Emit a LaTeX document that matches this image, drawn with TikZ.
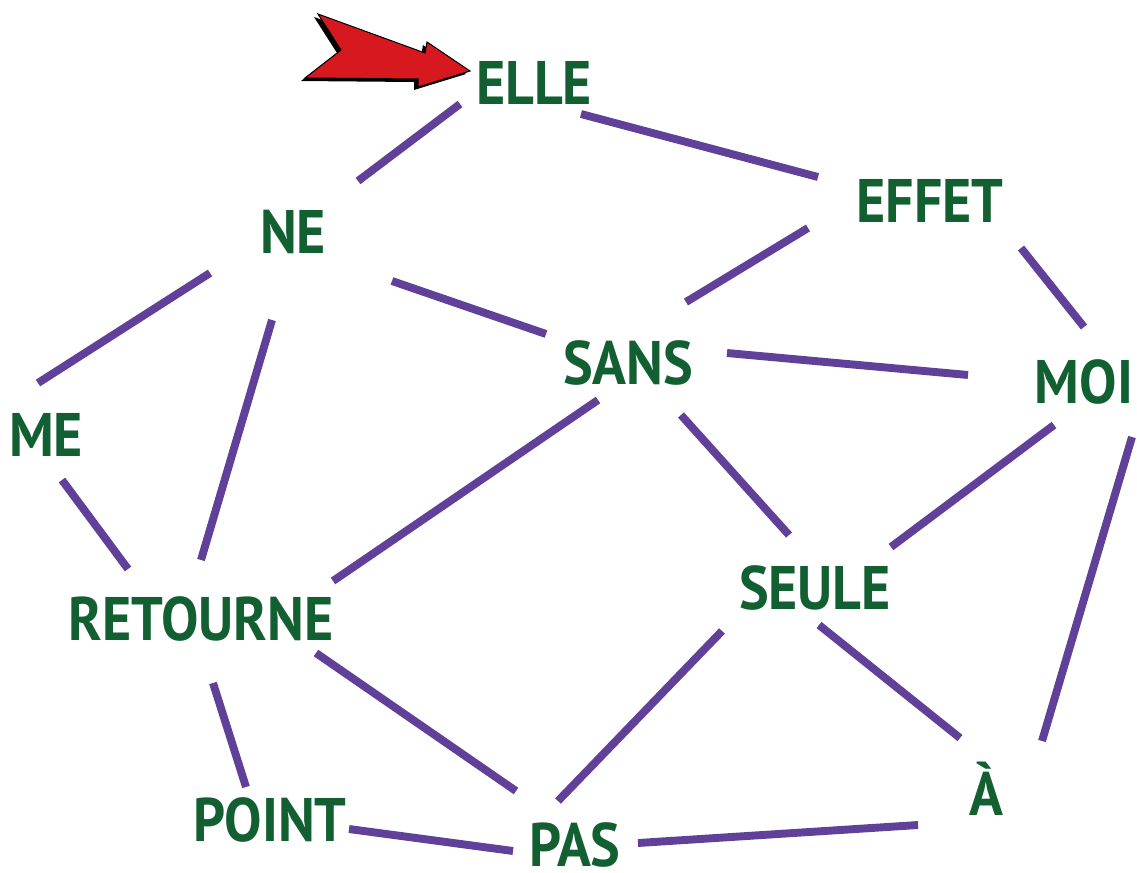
\documentclass[tikz,border=0pt]{standalone}
\usepackage{fontspec}
\setmainfont{PT Sans}[FakeStretch=0.91]
\usetikzlibrary{calc}
\definecolor{wordgreen}{RGB}{18,95,50}
\definecolor{linkpurple}{RGB}{96,64,152}
\definecolor{arrowred}{RGB}{215,25,31}

\begin{document}
\begin{tikzpicture}[x=0.02cm,y=-0.02cm,
  word/.style={font=\bfseries\fontsize{35}{35}\selectfont,text=wordgreen,
    inner sep=0pt,text height=23.5pt,text depth=0pt},
  link/.style={draw=linkpurple,line width=4.5pt}]
\useasboundingbox (0,0) rectangle (1137,873);
% words
\node[word] (elle) at (534,84) {ELLE};
\node[word] (effet) at (930,202) {EFFET};
\node[word] (ne) at (293,233) {NE};
\node[word] (sans) at (628,364) {SANS};
\node[word] (moi) at (1084,383) {MOI};
\node[word] (me) at (46,436) {ME};
\node[word] (seule) at (815,589) {SEULE};
\node[word] (retourne) at (201,620) {RETOURNE};
\node[word] (point) at (270,821) {POINT};
\node[word] (a) at (986,795) {À};
\node[word] (pas) at (575,846) {PAS};
% links
\draw[link] ($(elle.center)+(-74,20)$) -- ($(ne.center)+(65,-52)$);
\draw[link] ($(elle.center)+(47,30)$) -- ($(effet.center)+(-112,-25)$);
\draw[link] ($(effet.center)+(-122,26)$) -- ($(sans.center)+(58,-62)$);
\draw[link] ($(effet.center)+(91,46)$) -- ($(moi.center)+(0,-56)$);
\draw[link] ($(ne.center)+(-83,40)$) -- ($(me.center)+(-8,-53)$);
\draw[link] ($(ne.center)+(99,48)$) -- ($(sans.center)+(-82,-30)$);
\draw[link] ($(ne.center)+(-21,87)$) -- ($(retourne.center)+(0,-60)$);
\draw[link] ($(sans.center)+(99,-11)$) -- ($(moi.center)+(-116,-8)$);
\draw[link] ($(sans.center)+(-30,36)$) -- ($(retourne.center)+(132,-39)$);
\draw[link] ($(sans.center)+(53,51)$) -- ($(seule.center)+(-26,-54)$);
\draw[link] ($(moi.center)+(-30,42)$) -- ($(seule.center)+(76,-42)$);
\draw[link] ($(moi.center)+(48,54)$) -- ($(a.center)+(56,-54)$);
\draw[link] ($(me.center)+(16,44)$) -- ($(retourne.center)+(-73,-51)$);
\draw[link] ($(retourne.center)+(12,63)$) -- ($(point.center)+(-24,-34)$);
\draw[link] ($(retourne.center)+(115,33)$) -- ($(pas.center)+(-59,-55)$);
\draw[link] ($(seule.center)+(-93,42)$) -- ($(pas.center)+(-17,-45)$);
\draw[link] ($(seule.center)+(4,36)$) -- ($(a.center)+(-26,-57)$);
\draw[link] ($(point.center)+(79,8)$) -- ($(pas.center)+(-62,5)$);
\draw[link] ($(pas.center)+(63,-3)$) -- ($(a.center)+(-68,30)$);
% pointer to the first word
\fill[black] (314,17) -- (421,56) -- (423,45) -- (466,74) -- (414,90) -- (414,82)
  -- (301,81) -- (337,53) -- cycle;
\draw[fill=arrowred,draw=black,line width=0.6pt] (318,14) -- (425,53) -- (427,42)
  -- (470,71) -- (418,87) -- (418,79) -- (305,78) -- (341,50) -- cycle;
\end{tikzpicture}
\end{document}
